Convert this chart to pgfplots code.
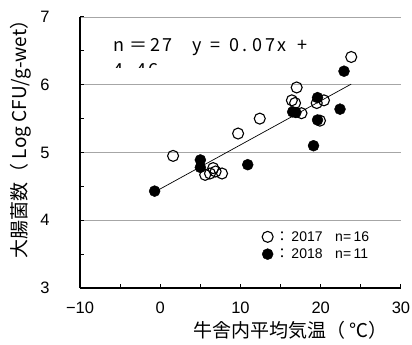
\documentclass[border=0pt]{standalone}
\usepackage{pgfplots}
\pgfplotsset{compat=1.18}
\usepackage{fontspec}
\setmainfont{Liberation Sans}
\newfontfamily\cjk{Noto Sans CJK JP}
\newfontfamily\cjksp[LetterSpace=14]{Noto Sans CJK JP}
\begin{document}
\begin{tikzpicture}[x=1pt,y=1pt]
\begin{axis}[
  scale only axis, width=321pt, height=271pt,
  at={(0,0)}, anchor=south west,
  xmin=-10, xmax=30, ymin=3, ymax=7,
  axis x line=bottom, axis y line=left,
  axis line style={-, line width=1.3pt},
  xtick={-10,0,...,30}, minor xtick={-5,5,15,25},
  xticklabels={−10,0,10,20,30},
  ytick={3,4,...,7}, minor ytick={3.5,4.5,5.5,6.5},
  tick align=inside,
  major tick length=4pt, minor tick length=4pt,
  tick style={black, line width=1pt},
  ymajorgrids, grid style={gray!70, line width=0.6pt},
  /pgf/number format/assume math mode=true,
  ticklabel style={font=\fontsize{16.5}{18}\selectfont},
  xticklabel style={yshift=-10pt},
  yticklabel style={xshift=-27pt},
  xlabel={\cjk\fontsize{19}{21}\selectfont 牛舎内平均気温（ ℃）},
  xlabel style={at={(axis description cs:0.655,0)}, anchor=north, yshift=-30pt},
  ylabel={\cjk\fontsize{19}{22}\selectfont 大腸菌数（ Log CFU/g-wet）},
  ylabel style={anchor=south, xshift=18pt, yshift=2pt},
  legend style={at={(axis cs:12.3,3.90)}, anchor=north west, draw=none, fill=none,
    font=\fontsize{14}{16}\selectfont, row sep=2pt,
    legend cell align=left},
  legend image code/.code={\draw[#1] plot coordinates {(0pt,0pt)};},
]
\addplot[only marks, mark=o, mark size=5.5pt, mark options={line width=1.1pt, black, fill=none}] coordinates {
(23.8,6.41) (17.0,5.96) (16.4,5.77) (16.8,5.73) (17.6,5.58) (19.5,5.73)
(20.4,5.77) (12.4,5.50) (9.7,5.28) (19.9,5.47) (1.6,4.95) (6.6,4.77)
(5.6,4.67) (6.2,4.69) (6.9,4.72) (7.7,4.69)
};
\addlegendentry{{\cjk ：}\,2017\hspace{0.9em}n=\,16}
\addplot[only marks, mark=*, mark size=5.5pt, mark options={black, fill=black}] coordinates {
(22.9,6.20) (19.6,5.81) (16.5,5.60) (16.9,5.59) (22.4,5.64) (19.6,5.48)
(19.1,5.10) (-0.7,4.43) (5.0,4.89) (5.0,4.78) (10.9,4.82)
};
\addlegendentry{{\cjk ：}\,2018\hspace{0.9em}n=\,11}
\addplot[black, line width=0.7pt, mark=none, forget plot] coordinates {(-0.5,4.43) (23.8,6.01)};
\begin{scope}
\clip (axis cs:-10,7) rectangle (axis cs:20,6.25);
\node[anchor=north west, align=left, font=\cjksp\fontsize{18}{25}\selectfont, inner sep=0pt]
  at (axis cs:-5.9,6.68) {n\hspace{0.3em}＝27\hspace{1.1em}y\hspace{0.5em}=\hspace{0.5em}0.\hspace{0.3em}07x\hspace{0.6em}+\\4.\hspace{0.3em}46};
\end{scope}
\end{axis}
\pgfresetboundingbox
\path[use as bounding box] (-80pt,-57pt) rectangle (332pt,288pt);
\end{tikzpicture}
\end{document}
